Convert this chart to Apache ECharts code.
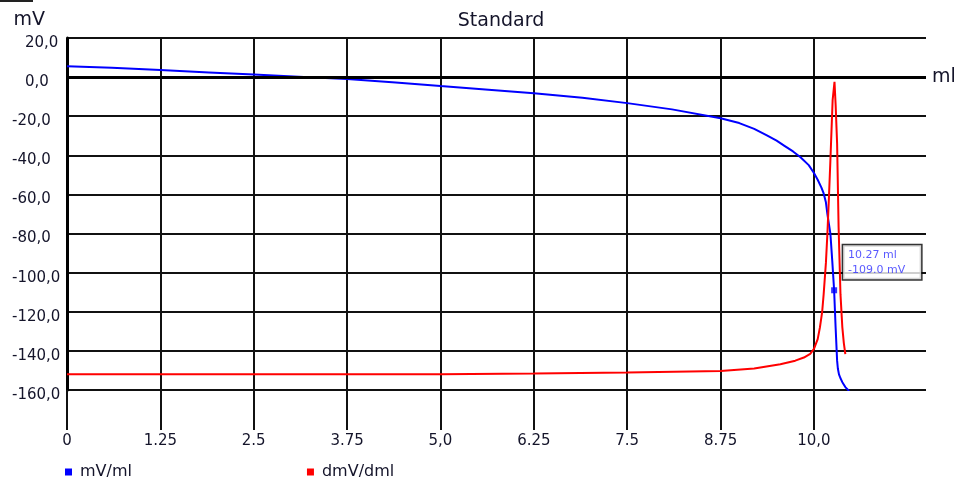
<!DOCTYPE html>
<html>
<head>
<meta charset="utf-8">
<script src="https://cdn.jsdelivr.net/npm/echarts@6/dist/echarts.min.js"></script>
<style>
    html, body { margin: 0; padding: 0; background: #fff; }
    #chart { width: 955px; height: 480px; }
</style>
</head>
<body>
<div id="chart"></div>
<script>
// titration curve (ml, mV)
var mvPerMl = [
    [0, 5.6], [0.6, 4.8], [1.25, 3.6], [1.9, 2.4], [2.5, 1.3], [3.1, 0.2], [3.75, -1.0],
    [4.4, -2.7], [5.0, -4.6], [5.6, -6.3], [6.25, -8.2], [6.9, -10.5], [7.5, -13.3],
    [8.1, -16.5], [8.75, -21.0], [9.0, -23.5], [9.2, -26.5], [9.37, -29.8], [9.5, -32.5],
    [9.6, -35.0], [9.72, -38.0], [9.82, -41.0], [9.93, -45.0], [10.0, -49.0], [10.05, -52.5],
    [10.1, -56.5], [10.13, -59.5], [10.16, -64.0], [10.18, -70.0], [10.2, -75.0],
    [10.22, -80.0], [10.245, -94.0], [10.27, -109.0], [10.29, -128.0], [10.31, -145.0],
    [10.32, -149.0], [10.335, -152.0], [10.355, -154.0], [10.38, -156.0], [10.42, -158.5],
    [10.47, -160.5]
];

// first derivative, same x scale
var dmvPerDml = [
    [0, -152.0], [1.25, -152.0], [2.5, -152.0], [3.75, -152.0], [5.0, -151.9],
    [6.25, -151.6], [7.5, -151.1], [8.75, -150.3], [9.2, -149.0], [9.55, -146.8],
    [9.75, -145.0], [9.865, -143.4], [9.95, -141.5], [10.0, -139.0], [10.05, -134.0],
    [10.08, -128.0], [10.11, -120.0], [10.13, -111.0], [10.16, -95.0], [10.18, -80.0],
    [10.2, -62.0], [10.22, -42.6], [10.25, -11.8], [10.275, -2.4], [10.29, -14.0],
    [10.31, -34.0], [10.33, -76.8], [10.355, -111.0], [10.38, -128.0], [10.4, -136.0],
    [10.42, -141.7]
];

var markerPoint = [10.27, -109.0];

var xTickValues = [0, 1.25, 2.5, 3.75, 5.0, 6.25, 7.5, 8.75, 10.0];
var xTickLabels = ['0', '1.25', '2.5', '3.75', '5,0', '6.25', '7.5', '8.75', '10,0'];
var yTickValues = [20, 0, -20, -40, -60, -80, -100, -120, -140, -160];
var yTickLabels = ['20,0', '0,0', '-20,0', '-40,0', '-60,0', '-80,0', '-100,0', '-120,0', '-140,0', '-160,0'];

var FONT = '"DejaVu Sans", Verdana, sans-serif';
var TXT = '#14142a';

var chart = echarts.init(document.getElementById('chart'));

chart.setOption({
    animation: false,
    textStyle: { fontFamily: FONT },
    title: {
        text: 'Standard',
        left: 496,
        top: 7,
        textAlign: 'center',
        textStyle: { fontFamily: FONT, fontSize: 19, fontWeight: 'normal', color: TXT }
    },
    graphic: [
        { type: 'line', shape: { x1: 0, y1: 1, x2: 33, y2: 1 }, style: { stroke: '#222', lineWidth: 2 } }
    ],
    legend: {
        data: ['mV/ml', 'dmV/dml'],
        left: 65,
        top: 464,
        padding: 0,
        icon: 'rect',
        itemWidth: 7,
        itemHeight: 7,
        itemGap: 175,
        textStyle: { fontFamily: FONT, fontSize: 16, color: TXT, padding: [0, 0, 0, 3] }
    },
    grid: { left: 67, right: 29, top: 38, bottom: 90 },
    xAxis: {
        type: 'value',
        min: 0,
        max: 11.5,
        axisLine: { show: false, onZero: false },
        axisTick: {
            show: true,
            customValues: xTickValues,
            inside: false,
            length: 40,
            lineStyle: { color: '#111', width: 2 }
        },
        splitLine: { show: true, lineStyle: { color: '#111', width: 2 } },
        axisLabel: {
            customValues: xTickValues,
            margin: 44,
            fontSize: 15,
            color: TXT,
            formatter: function (v) {
                var i = xTickValues.indexOf(v);
                return i >= 0 ? xTickLabels[i] : '';
            }
        }
    },
    yAxis: {
        type: 'value',
        min: -160,
        max: 20,
        interval: 20,
        name: 'mV',
        nameLocation: 'end',
        nameGap: 8,
        nameTextStyle: { fontFamily: FONT, fontSize: 19, color: TXT, align: 'right', padding: [0, 22, 0, 0] },
        axisLine: { show: true, onZero: false, lineStyle: { color: '#000', width: 3 } },
        axisTick: { show: false },
        splitLine: { show: true, lineStyle: { color: '#111', width: 2 } },
        axisLabel: {
            margin: 55,
            align: 'left',
            fontSize: 15,
            color: TXT,
            padding: [10, 0, 0, 0],
            formatter: function (v) {
                var i = yTickValues.indexOf(v);
                var s = i >= 0 ? yTickLabels[i] : '';
                return v >= 0 ? '{p|' + s + '}' : s;
            },
            rich: { p: { padding: [0, 0, 0, 13], fontSize: 15, color: TXT, fontFamily: FONT } }
        }
    },
    series: [
        {
            type: 'line',
            name: 'mV/ml',
            data: mvPerMl,
            showSymbol: false,
            color: '#0000ff',
            lineStyle: { color: '#0000ff', width: 2 },
            markLine: {
                silent: true,
                symbol: 'none',
                data: [{ yAxis: 0 }],
                lineStyle: { color: '#000', width: 3, type: 'solid' },
                label: { show: true, position: 'end', formatter: 'ml', distance: 6, fontFamily: FONT, fontSize: 19, color: TXT }
            }
        },
        {
            type: 'line',
            name: 'dmV/dml',
            data: dmvPerDml,
            showSymbol: false,
            color: '#ff0000',
            lineStyle: { color: '#ff0000', width: 2 }
        },
        {
            type: 'scatter',
            data: [markerPoint],
            symbol: 'rect',
            symbolSize: 6,
            itemStyle: { color: '#0000ff' },
            label: {
                show: true,
                position: [12, -42],
                align: 'left',
                verticalAlign: 'top',
                formatter: function (p) {
                    return p.value[0].toFixed(2) + ' ml\n' + p.value[1].toFixed(1) + ' mV';
                },
                fontFamily: FONT,
                fontSize: 11,
                lineHeight: 15,
                color: '#3030ff',
                backgroundColor: '#fff',
                borderColor: '#000',
                borderWidth: 1.5,
                padding: [2, 5, 2, 5],
                width: 68
            }
        }
    ]
});
</script>
</body>
</html>
